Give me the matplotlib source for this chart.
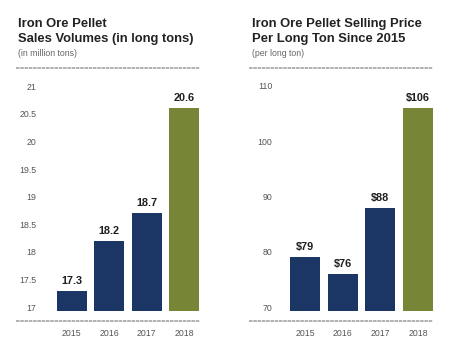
import matplotlib.pyplot as plt
import numpy as np

plt.rcParams['font.family'] = ['Liberation Sans', 'DejaVu Sans']

years = ['2015', '2016', '2017', '2018']
volumes = [17.3, 18.2, 18.7, 20.6]
volume_labels = ['17.3', '18.2', '18.7', '20.6']
prices = [79, 76, 88, 106]
price_labels = ['$79', '$76', '$88', '$106']

vol_ticks = [17, 17.5, 18, 18.5, 19, 19.5, 20, 20.5, 21]
price_ticks = [70, 80, 90, 100, 110]

navy = '#1b3564'
olive = '#768636'
colors = [navy, navy, navy, olive]

W, H = 464, 357
fig = plt.figure(figsize=(W / 100, H / 100), dpi=100)


def px_axes(x0, x1, y0, y1):
    # pixel box (top-left origin) -> figure fraction
    return fig.add_axes([x0 / W, 1 - y1 / H, (x1 - x0) / W, (y1 - y0) / H])


def draw_panel(ax, vals, labels, ticks, ylim, base, xlim, label_pad):
    x = np.arange(len(vals))
    ax.bar(x, np.array(vals) - base, bottom=base, width=0.8, color=colors)
    for xi, v, lab in zip(x, vals, labels):
        ax.annotate(lab, (xi, v), xytext=(0, 3.5), textcoords='offset points',
                    ha='center', va='bottom', fontsize=7.8, fontweight='bold',
                    color='#1e1e1e')
    ax.set_xlim(*xlim)
    ax.set_ylim(*ylim)
    ax.set_xticks(x)
    ax.set_xticklabels(years)
    ax.set_yticks(ticks)
    ax.set_yticklabels([f'{t:g}' for t in ticks])
    ax.tick_params(axis='x', length=0, pad=5.5, labelsize=6.3, labelcolor='#555555')
    ax.tick_params(axis='y', length=0, pad=label_pad, labelsize=6.3, labelcolor='#555555')
    for s in ['left', 'right']:
        ax.spines[s].set_visible(False)
    for s in ['top', 'bottom']:
        ax.spines[s].set_color('#b0b0b0')
        ax.spines[s].set_linewidth(1.4)
        ax.spines[s].set_linestyle((0, (0.8, 1.4)))
    ax.patch.set_alpha(0)


ax1 = px_axes(17, 200, 68, 321)
draw_panel(ax1, volumes, volume_labels, vol_ticks, (16.75, 21.33), 16.93,
           (-1.47, 3.43), -14)

ax2 = px_axes(250, 433, 68, 321)
draw_panel(ax2, prices, price_labels, price_ticks, (67.47, 113.25), 69.28,
           (-1.46, 3.4), -16)

title_kw = dict(fontsize=9.4, fontweight='bold', color='#222222', va='center', ha='left')
sub_kw = dict(fontsize=6.3, color='#666666', va='center', ha='left')

fig.text(18 / W, 1 - 24 / H, 'Iron Ore Pellet', **title_kw)
fig.text(18 / W, 1 - 39 / H, 'Sales Volumes (in long tons)', **title_kw)
fig.text(18 / W, 1 - 53 / H, '(in million tons)', **sub_kw)

fig.text(252 / W, 1 - 24 / H, 'Iron Ore Pellet Selling Price', **title_kw)
fig.text(252 / W, 1 - 39 / H, 'Per Long Ton Since 2015', **title_kw)
fig.text(252 / W, 1 - 53 / H, '(per long ton)', **sub_kw)

fig.savefig('out.png', dpi=100)
